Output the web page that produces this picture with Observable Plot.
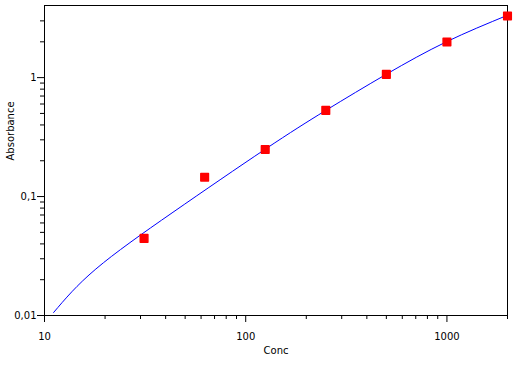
<!DOCTYPE html>
<html>
<head>
<meta charset="utf-8">
<script src="https://cdn.jsdelivr.net/npm/d3@7"></script>
<script src="https://cdn.jsdelivr.net/npm/@observablehq/plot@0.6"></script>
<style>
  html, body { margin: 0; padding: 0; background: #fff; }
  svg { display: block; }
</style>
</head>
<body>
<div id="chart"></div>
<script>
// Measured standards
const conc = [31.25, 62.5, 125, 250, 500, 1000, 2000];
const absorbance = [0.0445, 0.1455, 0.249, 0.530, 1.066, 1.995, 3.30];

// Fitted curve samples
const curveConc = [11.1, 18.0, 43.5, 124.5, 250, 499, 991, 2004];
const curveAbs = [0.0106, 0.0246, 0.0738, 0.249, 0.530, 1.066, 1.995, 3.35];

// Axis ticks and labels
const xMajor = [10, 100, 1000];
const xMajorLabels = ["10", "100", "1000"];
const xMinor = [20, 30, 40, 50, 60, 70, 80, 90, 200, 300, 400, 500, 600, 700, 800, 900, 2000];
const yMajor = [0.01, 0.1, 1];
const yMajorLabels = ["0,01", "0,1", "1"];
const yMinor = [0.02, 0.03, 0.04, 0.05, 0.06, 0.07, 0.08, 0.09, 0.2, 0.3, 0.4, 0.5, 0.6, 0.7, 0.8, 0.9, 2, 3];

const points = conc.map((c, i) => ({conc: c, abs: absorbance[i]}));
const curve = curveConc.map((c, i) => ({conc: c, abs: curveAbs[i]}));

const chart = Plot.plot({
  width: 530,
  height: 365,
  marginLeft: 44,
  marginRight: 23,
  marginTop: 5,
  marginBottom: 50,
  style: {fontFamily: "'DejaVu Sans', sans-serif", fontSize: "10px", color: "black", background: "white"},
  x: {type: "log", domain: [10, 2000]},
  y: {type: "log", domain: [0.01, 4.04]},
  marks: [
    Plot.axisX(xMinor, {tickSize: 4, tickFormat: () => "", label: null}),
    Plot.axisX(xMajor, {tickSize: 7, tickPadding: 10, tickFormat: (d) => xMajorLabels[xMajor.indexOf(d)], label: null}),
    Plot.axisY(yMinor, {tickSize: 4, tickFormat: () => "", label: null}),
    Plot.axisY(yMajor, {tickSize: 7, tickPadding: 1, tickFormat: (d) => yMajorLabels[yMajor.indexOf(d)], label: null}),
    Plot.frame({stroke: "black", strokeWidth: 1}),
    Plot.line(curve, {x: "conc", y: "abs", stroke: "#0000ff", strokeWidth: 1, curve: "natural"}),
    Plot.dot(points, {x: "conc", y: "abs", symbol: "square", r: 4.3, fill: "#ff0000", stroke: "#ff0000", strokeWidth: 1.5, strokeLinejoin: "round"}),
    Plot.text(["Conc"], {frameAnchor: "bottom", dy: 38, text: d => d, fill: "black"}),
    Plot.text(["Absorbance"], {frameAnchor: "left", dx: -34, rotate: -90, text: d => d, fill: "black"})
  ]
});
document.getElementById("chart").appendChild(chart);
</script>
</body>
</html>
